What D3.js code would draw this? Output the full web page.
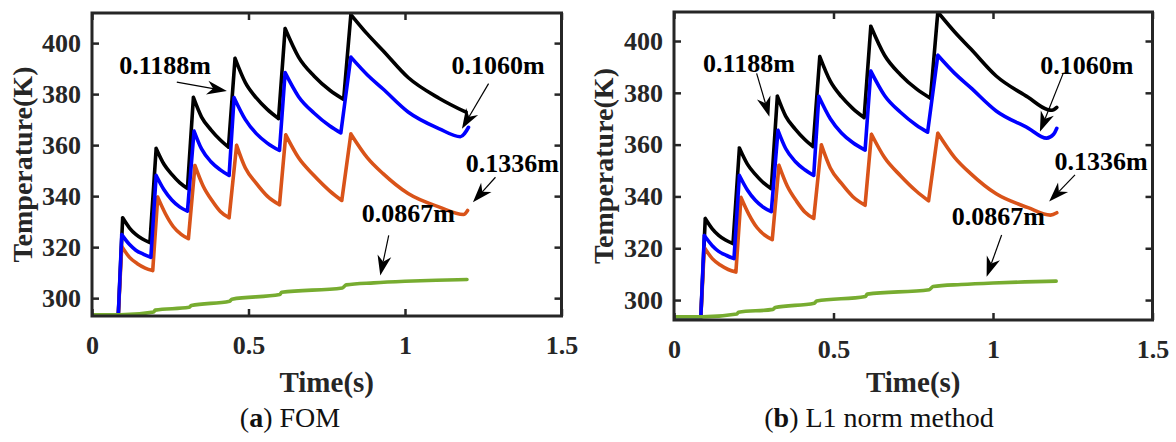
<!DOCTYPE html>
<html>
<head>
<meta charset="utf-8">
<script src="https://cdn.jsdelivr.net/npm/d3@7"></script>
<style>
  body { margin: 0; background: #fff; }
  svg { display: block; font-family: "Liberation Serif", "Times New Roman", serif; }
</style>
</head>
<body>
<svg id="chart" width="1176" height="442"></svg>
<script>
// --- data: [time (s), temperature (K)] ---
const fomBlack = [[0,293.3],[0.084,293.3],[0.098,331.5],[0.12,327.5],[0.14,325],[0.16,323.3],[0.185,321.8],
  [0.205,358.7],[0.23,352.5],[0.255,348.5],[0.28,345.3],[0.305,343],
  [0.324,378.7],[0.35,371],[0.38,366],[0.41,362],[0.436,359.2],
  [0.457,394],[0.49,384.5],[0.525,378.5],[0.56,374],[0.596,370.4],
  [0.617,405.7],[0.66,394.5],[0.71,387],[0.76,381.5],[0.804,377.9],
  [0.827,411.2],[0.88,403.5],[0.93,397],[1.01,386.5],[1.11,378.3],[1.195,372.9]];
const fomBlue = [[0,293.3],[0.084,293.3],[0.095,324.9],[0.12,321],[0.14,318.8],[0.165,317.2],[0.188,316],
  [0.205,348.1],[0.23,342.5],[0.255,338.5],[0.28,335.8],[0.305,334.1],
  [0.326,365.5],[0.35,358.5],[0.38,353.5],[0.41,350.3],[0.438,348.1],
  [0.454,378.6],[0.49,370],[0.525,364.5],[0.56,360.8],[0.599,357.9],
  [0.617,388.4],[0.66,379],[0.71,372.5],[0.76,367.5],[0.795,364.8],
  [0.827,394.5],[0.88,387.5],[0.93,382],[1.01,373],[1.11,366.4],[1.177,363.3],[1.203,367]];
const fomOrange = [[0,293.3],[0.084,293.3],[0.095,320.3],[0.12,316],[0.145,313.5],[0.17,311.8],[0.194,310.8],
  [0.21,339.6],[0.235,333],[0.26,328],[0.285,325],[0.308,323.3],
  [0.329,352],[0.355,344],[0.385,338],[0.41,334],[0.438,331.5],
  [0.462,359.9],[0.49,351],[0.525,345],[0.56,340],[0.599,336.6],
  [0.619,364],[0.66,355],[0.71,348],[0.76,342],[0.798,338.3],
  [0.827,364.4],[0.88,355],[0.93,348.8],[1.01,341],[1.11,335.7],[1.187,332.8],[1.2,334.4]];
const fomGreen = [[0,293.5],[0.09,293.5],[0.197,294.6],[0.202,295.3],[0.31,296.4],[0.317,297.1],
  [0.44,298.8],[0.447,299.6],[0.6,301.4],[0.606,302.3],[0.8,304],[0.812,305.2],
  [0.9,306],[1.0,306.6],[1.1,307],[1.198,307.3]];

// L1 norm curves: same body, slightly different ends
const l1Black = fomBlack.slice(0, -1).concat([[1.17,373.6],[1.185,373.3],[1.2,374.4]]);
const l1Blue = fomBlue.slice(0, -2).concat([[1.168,362.5],[1.19,364],[1.2,366.3]]);
const l1Orange = fomOrange.slice(0, -2).concat([[1.18,332.8],[1.2,333.7]]);
const l1Green = fomGreen;

const xTicks = [0, 0.5, 1, 1.5];
const xTickLabels = ["0", "0.5", "1", "1.5"];
const yTicks = [300, 320, 340, 360, 380, 400];
const seriesColors = ["#000000", "#D95319", "#0000FF", "#77AC30"];

const svg = d3.select("#chart");
const axisColor = "#262626";

const panels = [
  { id: "a", name: "FOM", left: 92, right: 561.5, top: 13, bottom: 316, yDomain: [293, 411.8],
    series: [fomBlack, fomOrange, fomBlue, fomGreen], yTitleX: 22, capX: 290,
    notes: [
      { text: "0.1188m", lx: 0.2335, ly: 391.2, from: [0.271, 384.7], to: [0.431, 381.2] },
      { text: "0.1060m", lx: 1.297, ly: 391.2, from: [1.267, 384.1], to: [1.182, 366.4] },
      { text: "0.1336m", lx: 1.343, ly: 352.7, from: [1.289, 347.4], to: [1.217, 337.6] },
      { text: "0.0867m", lx: 1.011, ly: 333.1, from: [0.948, 324.6], to: [0.921, 308.9] }
    ] },
  { id: "b", name: "L1 norm method", left: 674, right: 1152.5, top: 12, bottom: 320, yDomain: [292.3, 411.2],
    series: [l1Black, l1Orange, l1Blue, l1Green], yTitleX: 603, capX: 879,
    notes: [
      { text: "0.1188m", lx: 0.235, ly: 391.4, from: [0.259, 387.5], to: [0.299, 370.8] },
      { text: "0.1060m", lx: 1.294, ly: 390.7, from: [1.22, 387.5], to: [1.147, 365] },
      { text: "0.1336m", lx: 1.339, ly: 353.4, from: [1.257, 348.3], to: [1.176, 338] },
      { text: "0.0867m", lx: 1.017, ly: 332.2, from: [1.027, 325.1], to: [0.98, 309] }
    ] }
];

// split a sawtooth series into pieces: smooth decays, straight rises
function pieces(s) {
  const out = [];
  let cur = [s[0]];
  for (let i = 1; i < s.length; i++) {
    const rising = s[i][1] - s[i - 1][1] > 4;
    if (rising) {
      if (cur.length > 1) out.push({ pts: cur, smooth: true });
      out.push({ pts: [s[i - 1], s[i]], smooth: false });
      cur = [s[i]];
    } else {
      cur.push(s[i]);
    }
  }
  if (cur.length > 1) out.push({ pts: cur, smooth: true });
  return out;
}

panels.forEach(p => {
  const x = d3.scaleLinear().domain([0, 1.5]).range([p.left, p.right]);
  const y = d3.scaleLinear().domain(p.yDomain).range([p.bottom, p.top]);
  const g = svg.append("g");

  g.append("clipPath").attr("id", "clip-" + p.id)
    .append("rect").attr("x", p.left).attr("y", p.top)
    .attr("width", p.right - p.left).attr("height", p.bottom - p.top);

  // lines
  const smoothLine = d3.line().x(d => x(d[0])).y(d => y(d[1])).curve(d3.curveMonotoneX);
  const straightLine = d3.line().x(d => x(d[0])).y(d => y(d[1]));
  const lg = g.append("g").attr("clip-path", `url(#clip-${p.id})`);
  p.series.forEach((s, i) => {
    const d = pieces(s).map(pc => (pc.smooth ? smoothLine : straightLine)(pc.pts)).join("");
    lg.append("path").attr("d", d)
      .attr("fill", "none").attr("stroke", seriesColors[i])
      .attr("stroke-width", 3.6).attr("stroke-linejoin", "round").attr("stroke-linecap", "round");
  });

  // axes, ticks inside on all four sides
  const styleAxis = sel => {
    sel.select(".domain").remove();
    sel.selectAll(".tick line").attr("stroke", axisColor).attr("stroke-width", 2.5);
    sel.selectAll(".tick text").attr("fill", axisColor).attr("font-size", 26)
      .attr("font-weight", "bold").attr("font-family", "Liberation Serif, serif");
  };
  g.append("g").attr("transform", `translate(0,${p.bottom})`)
    .call(d3.axisBottom(x).tickValues(xTicks).tickFormat((d, i) => xTickLabels[i]).tickSize(-7).tickPadding(20))
    .call(styleAxis);
  g.append("g").attr("transform", `translate(0,${p.top})`)
    .call(d3.axisTop(x).tickValues(xTicks).tickFormat("").tickSize(-7))
    .call(styleAxis);
  g.append("g").attr("transform", `translate(${p.left},0)`)
    .call(d3.axisLeft(y).tickValues(yTicks).tickFormat(d3.format("d")).tickSize(-7).tickPadding(11))
    .call(styleAxis);
  g.append("g").attr("transform", `translate(${p.right},0)`)
    .call(d3.axisRight(y).tickValues(yTicks).tickFormat("").tickSize(-7))
    .call(styleAxis);

  g.append("rect").attr("x", p.left).attr("y", p.top)
    .attr("width", p.right - p.left).attr("height", p.bottom - p.top)
    .attr("fill", "none").attr("stroke", axisColor).attr("stroke-width", 3);

  // titles
  g.append("text").attr("x", (p.left + p.right) / 2).attr("y", 392)
    .attr("text-anchor", "middle").attr("font-size", 29).attr("font-weight", "bold")
    .attr("fill", axisColor).text("Time(s)");
  g.append("text")
    .attr("transform", `translate(${p.yTitleX},${(p.top + p.bottom) / 2}) rotate(-90)`)
    .attr("text-anchor", "middle").attr("dominant-baseline", "central")
    .attr("font-size", 28).attr("font-weight", "bold").attr("fill", axisColor)
    .text("Temperature(K)");

  const cap = g.append("text").attr("x", p.capX).attr("y", 427)
    .attr("text-anchor", "middle").attr("font-size", 28).attr("fill", "#111");
  cap.append("tspan").text("(");
  cap.append("tspan").attr("font-weight", "bold").text(p.id);
  cap.append("tspan").text(") " + p.name);

  // annotations with arrows
  p.notes.forEach(n => {
    g.append("text").attr("x", x(n.lx)).attr("y", y(n.ly))
      .attr("text-anchor", "middle").attr("dominant-baseline", "central")
      .attr("font-size", 26).attr("font-weight", "bold").attr("fill", "#000")
      .text(n.text);
    const x1 = x(n.from[0]), y1 = y(n.from[1]), x2 = x(n.to[0]), y2 = y(n.to[1]);
    const len = Math.hypot(x2 - x1, y2 - y1);
    const ux = (x2 - x1) / len, uy = (y2 - y1) / len;
    const nx = -uy, ny = ux;
    const L = 20, W = 7, back = 6;
    g.append("line").attr("x1", x1).attr("y1", y1)
      .attr("x2", x2 - (L - back) * ux).attr("y2", y2 - (L - back) * uy)
      .attr("stroke", "#000").attr("stroke-width", 1.2);
    const pts = [
      [x2, y2],
      [x2 - L * ux + W * nx, y2 - L * uy + W * ny],
      [x2 - (L - back) * ux, y2 - (L - back) * uy],
      [x2 - L * ux - W * nx, y2 - L * uy - W * ny]
    ];
    g.append("path").attr("d", "M" + pts.map(q => q.join(",")).join("L") + "Z").attr("fill", "#000");
  });
});
</script>
</body>
</html>
